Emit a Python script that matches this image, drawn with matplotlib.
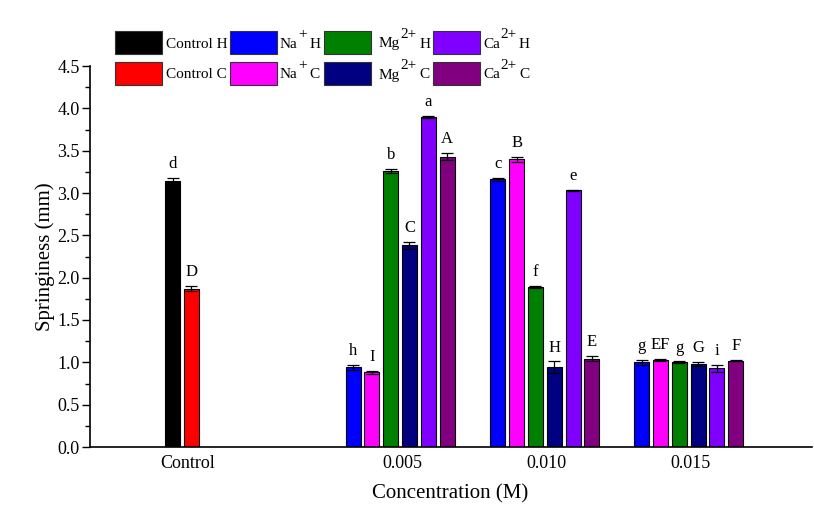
import matplotlib
matplotlib.use("Agg")
import matplotlib.pyplot as plt
from matplotlib.patches import Rectangle
import numpy as np

plt.rcParams['font.family'] = ['Liberation Serif', 'DejaVu Serif']

# ---------------- data ----------------
categories = ["Control", "0.005", "0.010", "0.015"]

control_names = ["Control H", "Control C"]
control_values = [3.14, 1.87]
control_errors = [0.04, 0.03]
control_letters = ["d", "D"]

# series: (ion, superscript, suffix)
series_ions = ["Na", "Na", "Mg", "Mg", "Ca", "Ca"]
series_sups = ["+", "+", "2+", "2+", "2+", "2+"]
series_suffix = ["H", "C", "H", "C", "H", "C"]
# rows: 0.005, 0.010, 0.015 ; columns: series
series_values = [
    [0.94, 0.88, 3.26, 2.38, 3.90, 3.43],
    [3.16, 3.40, 1.89, 0.94, 3.03, 1.04],
    [1.00, 1.03, 1.00, 0.98, 0.93, 1.02],
]
series_errors = [
    [0.03, 0.02, 0.02, 0.04, 0.01, 0.04],
    [0.02, 0.03, 0.01, 0.07, 0.01, 0.03],
    [0.03, 0.01, 0.01, 0.02, 0.04, 0.01],
]
series_letters = [
    ["h", "I", "b", "C", "a", "A"],
    ["c", "B", "f", "H", "e", "E"],
    ["g", "EF", "g", "G", "i", "F"],
]

control_colors = ["#000000", "#FF0000"]
series_colors = ["#0000FF", "#FF00FF", "#008000", "#000080", "#8000FF", "#800080"]

# ---------------- layout ----------------
W, H = 814, 524
fig = plt.figure(figsize=(W / 100, H / 100), dpi=100)
AX_L, AX_R, AX_B, AX_T = 90, 812, 447, 66   # pixel frame (from top for B/T)
ax = fig.add_axes([AX_L / W, (H - AX_B) / H, (AX_R - AX_L) / W, (AX_B - AX_T) / H])

group_centers = [0.0, 11.6, 19.3, 26.95]
bar_w = 0.8
slot_px = 18.8
ctrl_px = 182

def draw(xs, vals, errs, cols, letters):
    ax.bar(xs, vals, width=bar_w, color=cols, edgecolor="black", linewidth=0.8, zorder=2)
    ax.errorbar(xs, vals, yerr=errs, fmt="none", ecolor="black", elinewidth=0.9,
                capsize=4, capthick=0.9, zorder=3)
    for x, v, e, l in zip(xs, vals, errs, letters):
        ax.text(x, v + e + 0.07, l, ha="center", va="bottom", fontsize=12)

cx = group_centers[0] + np.array([-0.5, 0.5])
draw(cx, control_values, control_errors, control_colors, control_letters)
for gi in range(3):
    xs = group_centers[gi + 1] + np.arange(6) - 2.5
    draw(xs, series_values[gi], series_errors[gi], series_colors, series_letters[gi])

ax.set_xlim((AX_L - ctrl_px) / slot_px, (AX_R - ctrl_px) / slot_px)
ax.set_ylim(0, 4.5)
ax.set_yticks(np.arange(0, 4.51, 0.5))
ax.set_yticks(np.arange(0, 4.51, 0.25), minor=True)
ax.set_yticklabels([f"{v:.1f}" for v in np.arange(0, 4.51, 0.5)], fontsize=13)
ax.set_xticks([g + (0.3 if i == 0 else 0.1) for i, g in enumerate(group_centers)])
ax.set_xticklabels(categories, fontsize=13)
ax.tick_params(axis="x", length=0, pad=6)
ax.tick_params(axis="y", which="major", direction="out", length=6, width=1, pad=1.5)
ax.tick_params(axis="y", which="minor", direction="out", length=3.5, width=1)
for s in ["top", "right"]:
    ax.spines[s].set_visible(False)
ax.spines["left"].set_linewidth(1.2)
ax.spines["bottom"].set_linewidth(1.2)
ax.set_ylabel("Springiness (mm)", fontsize=15, va="center", ha="center")
ax.set_xlabel("Concentration (M)", fontsize=15, va="center", ha="center")
ax.yaxis.set_label_coords((45 - AX_L) / (AX_R - AX_L), (AX_B - 257) / (AX_B - AX_T))
ax.xaxis.set_label_coords((450 - AX_L) / (AX_R - AX_L), (AX_B - 494) / (AX_B - AX_T))

# ---------------- legend (manual) ----------------
def px(x, y):
    return x / W, 1 - y / H

renderer = fig.canvas.get_renderer()

def text_w(t):
    return t.get_window_extent(renderer=renderer).width

bw, bh = 47, 23
box_x = [115, 230, 324, 433]
row_top = [31, 62]
row_mid = [44, 75]

for r in range(2):
    x0, y0 = box_x[0], row_top[r]
    fig.add_artist(Rectangle((x0 / W, 1 - (y0 + bh) / H), bw / W, bh / H,
                             facecolor=control_colors[r], edgecolor="#333333", linewidth=0.8,
                             transform=fig.transFigure))
    fig.text(*px(166, row_mid[r]), control_names[r], ha="left", va="center", fontsize=11)

ion_start = {"Na": 280, "Mg": 379, "Ca": 483}
col_of = {"Na": 1, "Mg": 2, "Ca": 3}
for i in range(6):
    ion = series_ions[i]
    r = 0 if series_suffix[i] == "H" else 1
    c = col_of[ion]
    x0, y0 = box_x[c], row_top[r]
    fig.add_artist(Rectangle((x0 / W, 1 - (y0 + bh) / H), bw / W, bh / H,
                             facecolor=series_colors[i], edgecolor="#333333", linewidth=0.8,
                             transform=fig.transFigure))
    xpos = ion_start[ion]
    t1 = fig.text(*px(xpos, row_mid[r]), ion, ha="left", va="center", fontsize=11)
    xpos += text_w(t1) + 0.5
    t2 = fig.text(*px(xpos, row_mid[r] - 9), series_sups[i], ha="left", va="center", fontsize=11)
    xpos += text_w(t2) + 2.5
    fig.text(*px(xpos, row_mid[r]), series_suffix[i], ha="left", va="center", fontsize=11)

fig.savefig("out.png", dpi=100, facecolor="white")
